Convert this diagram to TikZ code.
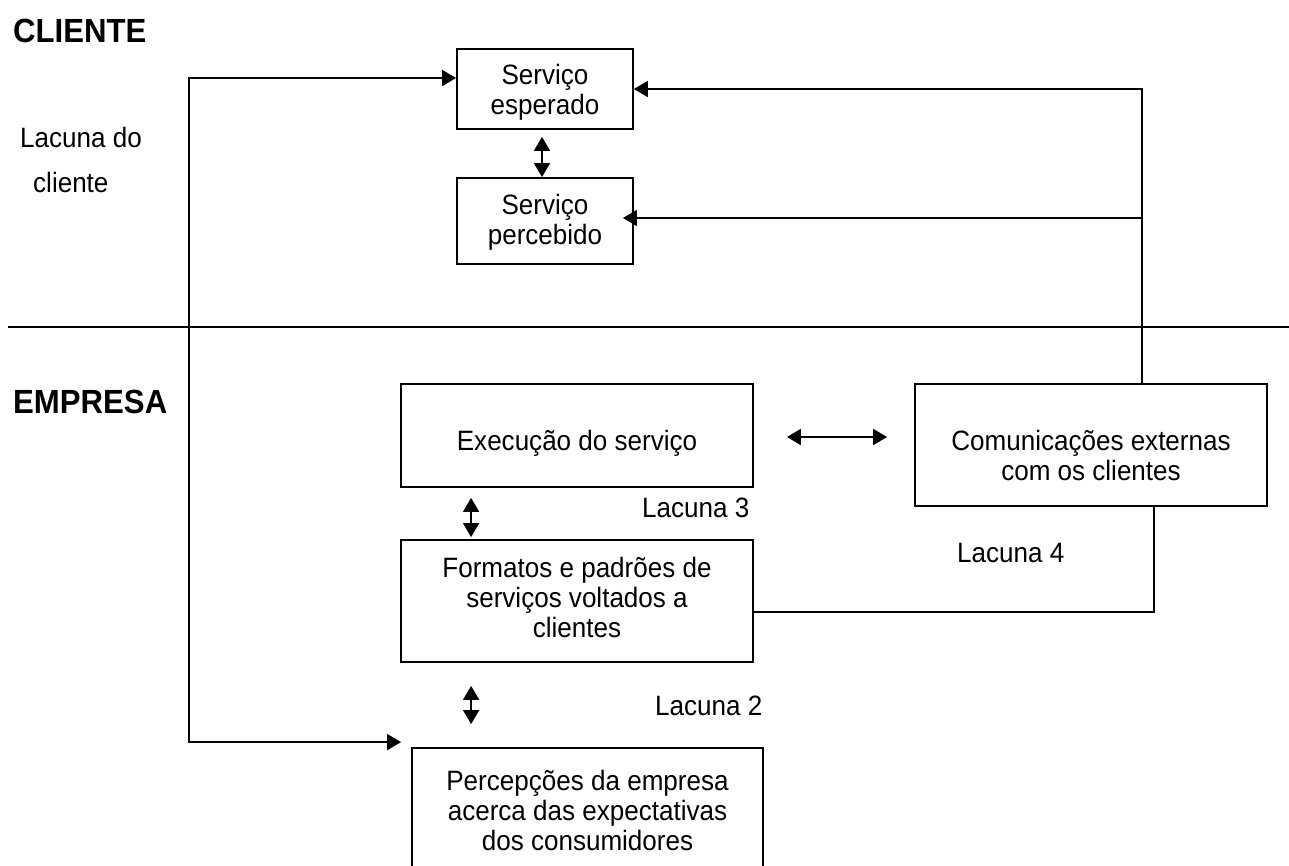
\documentclass[tikz,border=0pt]{standalone}
\usepackage{fontspec}
\setmainfont{Liberation Sans}[FakeStretch=0.93]
\usetikzlibrary{arrows.meta,calc,positioning}
\newcommand{\gapup}[1]{\rule{0pt}{#1}}
\newcommand{\gapdown}[1]{\rule[-#1]{0pt}{#1}}

\begin{document}
\begin{tikzpicture}[x=1pt,y=-1pt,
  every node/.style={font=\fontsize{28pt}{30pt}\selectfont,inner sep=0pt},
  gapbox/.style={draw,line width=1.8pt,align=center},
  conn/.style={line width=1.8pt},
  arrowin/.style={-{Triangle[length=14pt,width=16pt]}},
  arrowdbl/.style={{Triangle[length=14pt,width=16pt]}-{Triangle[length=14pt,width=16pt]}},
  zone/.style={font=\fontsize{33.5pt}{36pt}\selectfont\bfseries,anchor=base west},
  gaplabel/.style={anchor=base west}]
  \useasboundingbox (0,0) rectangle (1289,866);
  \clip (0,0) rectangle (1289,866);

  % cliente side
  \node[zone] (cli) at (13,43) {CLIENTE};
  \node[gaplabel] (lacA) at (20,148) {Lacuna do};
  \node[gaplabel] (lacB) at (33,193) {cliente};
  \node[gapbox,minimum width=176pt,minimum height=80pt] (esp) at (545,89)
    {\gapup{30pt}Serviço\\esperado\gapdown{8pt}};
  \node[gapbox,minimum width=176pt,minimum height=86pt] (perc) at (545,221)
    {\gapup{26pt}Serviço\\percebido\gapdown{8pt}};

  % divider
  \coordinate (dl) at (8,327);
  \coordinate (dr) at (1289,327);
  \draw[line width=2.8pt] (dl) -- (dr);

  % empresa side
  \node[zone] (emp) at (13,413) {EMPRESA};
  \node[gapbox,minimum width=352pt,minimum height=103pt] (exe) at (577,435.5)
    {\gapup{38pt}Execução do serviço\gapdown{8pt}};
  \node[gapbox,minimum width=352pt,minimum height=122pt] (com) at (1091,445)
    {\gapup{48pt}Comunicações externas\\com os clientes\gapdown{8pt}};
  \node[gapbox,minimum width=352pt,minimum height=122pt] (form) at (577,601)
    {\gapup{28pt}Formatos e padrões de\\serviços voltados a\\clientes\gapdown{16pt}};
  \node[gapbox,minimum width=351pt,minimum height=128pt] (pcp) at (587.5,812)
    {\gapup{28pt}Percepções da empresa\\acerca das expectativas\\dos consumidores\gapdown{12pt}};
  \node[gaplabel] (lac3) at (642,517) {Lacuna 3};
  \node[gaplabel] (lac4) at (957,562) {Lacuna 4};
  \node[gaplabel] (lac2) at (655,715) {Lacuna 2};

  % connectors
  \coordinate (cl) at (189,78);
  \draw[conn,arrowdbl] ([shift={(-10pt,5pt)}]pcp.north west) -| (cl) -- (cl -| esp.west);
  \draw[conn,arrowin] ([xshift=51pt]com.north) |- (esp.east);
  \coordinate (cr) at (1142,218);
  \draw[conn,arrowin,shorten >=-11pt] (cr) -- (cr -| perc.east);
  \draw[conn] ([yshift=-11pt]form.east) -| ([xshift=63pt]com.south);
  \draw[conn,arrowdbl,shorten <=7pt] ([xshift=-3pt]esp.south) -- ([xshift=-3pt]perc.north);
  \draw[conn,arrowdbl,shorten <=33pt,shorten >=27pt] ([yshift=-1.5pt]exe.east) -- ([yshift=-1.5pt]exe.east -| com.west);
  \draw[conn,arrowdbl,shorten <=10pt,shorten >=2pt] ([xshift=71pt]exe.south west) -- ([xshift=71pt]form.north west);
  \draw[conn,arrowdbl,shorten <=23pt,shorten >=23pt] ([xshift=71pt]form.south west) -- ([xshift=71pt]form.south west |- pcp.north);
\end{tikzpicture}
\end{document}
